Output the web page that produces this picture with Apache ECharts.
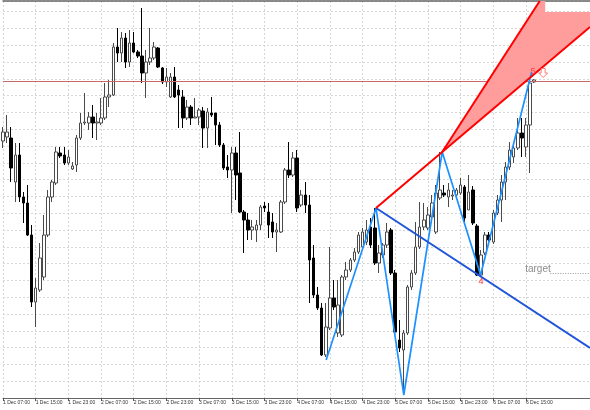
<!DOCTYPE html>
<html><head><meta charset="utf-8">
<script src="https://cdn.jsdelivr.net/npm/echarts@6/dist/echarts.min.js"></script>
<style>html,body{margin:0;padding:0;background:#fff}#c{width:590px;height:410px}</style>
</head><body><div id="c"></div>
<script>
// hourly bars, bar 0 = 1 Dec 07:00
const opens = [
1853,1857,1856,1812,1839,1797,1791,1759,1692,1704,
1717,1759,1797,1811,1841,1839,1831,1825,1829,1856,
1871,1871,1877,1871,1871,1876,1897,1899,1947,1941,
1956,1932,1951,1942,1938,1921,1932,1936,1946,1926,
1912,1897,1917,1904,1897,1876,1887,1876,1877,1883,
1866,1881,1881,1869,1849,1827,1824,1841,1821,1782,
1774,1764,1764,1769,1788,1782,1772,1762,1762,1792,
1824,1819,1836,1789,1799,1789,1736,1699,1686,1639,
1666,1696,1661,1659,1717,1724,1734,1742,1747,1752,
1767,1766,1731,1739,1749,1764,1721,1654,1644,1661,
1707,1721,1747,1767,1766,1777,1762,1796,1801,1797,
1798,1799,1801,1807,1784,1804,1768,1719,1741,1759,
1752,1781,1794,1812,1827,1837,1846,1861,1847,1869,
1912];
const closes = [
1862,1862,1826,1839,1797,1791,1759,1692,1706,1736,
1759,1797,1812,1842,1838,1831,1837,1828,1856,1871,
1872,1877,1871,1872,1876,1897,1899,1947,1941,1956,
1932,1951,1942,1938,1921,1932,1936,1947,1927,1912,
1917,1917,1897,1899,1876,1887,1876,1877,1884,1866,
1882,1879,1869,1849,1826,1824,1841,1819,1782,1774,
1764,1767,1769,1787,1786,1769,1762,1764,1792,1824,
1819,1836,1786,1799,1789,1734,1699,1686,1639,1667,
1696,1687,1689,1717,1724,1734,1742,1759,1762,1764,
1749,1731,1741,1749,1762,1721,1662,1646,1661,1707,
1721,1747,1767,1774,1779,1791,1801,1804,1799,1804,
1799,1804,1809,1776,1802,1771,1719,1739,1759,1754,
1781,1794,1812,1827,1844,1846,1861,1856,1869,1911,
1914];
const lows = [
1846,1851,1812,1792,1792,1771,1758,1687,1667,1702,
1714,1757,1792,1809,1836,1829,1829,1824,1822,1854,
1869,1864,1856,1854,1869,1874,1887,1898,1932,1932,
1926,1927,1941,1936,1911,1896,1929,1934,1926,1910,
1907,1896,1896,1866,1866,1874,1869,1876,1869,1846,
1846,1877,1849,1847,1824,1816,1781,1794,1781,1741,
1754,1754,1752,1764,1782,1756,1756,1742,1761,1790,
1816,1817,1782,1787,1781,1691,1696,1684,1638,1637,
1664,1684,1657,1657,1714,1722,1732,1740,1745,1749,
1746,1729,1721,1736,1746,1719,1659,1642,1599,1659,
1704,1719,1745,1764,1764,1774,1760,1794,1797,1787,
1794,1796,1799,1769,1784,1769,1718,1717,1739,1752,
1750,1779,1772,1794,1824,1831,1844,1837,1837,1821,
1911];
const highs = [
1867,1879,1867,1851,1851,1802,1809,1769,1716,1751,
1779,1804,1814,1847,1847,1847,1844,1832,1859,1881,
1901,1882,1889,1881,1896,1911,1914,1951,1966,1962,
1961,1964,1962,1944,1986,1944,1966,1952,1947,1927,
1926,1921,1927,1909,1904,1894,1889,1896,1886,1887,
1886,1897,1881,1872,1851,1839,1847,1847,1862,1784,
1781,1774,1774,1789,1792,1791,1781,1771,1794,1826,
1852,1842,1844,1804,1812,1799,1749,1707,1691,1691,
1747,1714,1714,1719,1732,1736,1746,1762,1766,1774,
1776,1786,1749,1751,1771,1766,1724,1674,1664,1709,
1724,1772,1792,1791,1787,1799,1809,1842,1809,1811,
1804,1806,1816,1809,1819,1808,1770,1744,1762,1762,
1784,1799,1819,1832,1852,1852,1876,1876,1876,1919,
1915];

const tickLabels = ['1 Dec 07:00','1 Dec 15:00','1 Dec 23:00','2 Dec 07:00','2 Dec 15:00','2 Dec 23:00',
  '3 Dec 07:00','3 Dec 15:00','3 Dec 23:00','4 Dec 07:00','4 Dec 15:00','4 Dec 23:00',
  '5 Dec 07:00','5 Dec 15:00','5 Dec 23:00','6 Dec 07:00','6 Dec 15:00'];
const tickBars = [0,8,16,24,32,40,48,56,64,72,80,88,96,104,112,120,128];

// pattern points (bar position, price)
const zigzagBars   = [79.1, 91.3, 98.1, 107.5, 116.9, 129.4];
const zigzagPrices = [1634, 1786, 1599, 1842, 1719, 1922];
const redLowBars   = [91.3, 107.5, 143.68];
const redLowPrices = [1786, 1842, 1967];
const redUpBars    = [107.5, 131.37];
const redUpPrices  = [1842, 1993];
const blueBars     = [91.3, 143.68];
const bluePrices   = [1786, 1646];
const wedgeBars    = [107.5, 131.37, 132.72, 132.72, 143.68, 143.68];
const wedgePrices  = [1842, 1993, 1993, 1982, 1982, 1967];
const levelPrice   = 1912.5;
const targetBars   = [133.95, 143.68];
const targetPrice  = 1720.5;

const XMIN = 0, XMAX = 143.68, YMIN = 1596, YMAX = 1993;
const candles = opens.map((o, i) => [i, o, closes[i], lows[i], highs[i]]);
const pts = (b, p) => b.map((x, k) => [x, p[k]]);

const gridLine = { show: true, lineStyle: { color: '#d6d6d6', type: [2, 2], width: 1 } };
const chart = echarts.init(document.getElementById('c'), null, { renderer: 'canvas' });
chart.setOption({
  animation: false,
  backgroundColor: '#fff',
  grid: { left: 0.33, right: 0, top: 1, bottom: 12, containLabel: false },
  xAxis: [{
    type: 'value', min: XMIN, max: XMAX, interval: 4,
    splitLine: gridLine,
    axisLine: { show: true, lineStyle: { color: '#666', width: 1 } },
    axisTick: { show: true, length: 3, lineStyle: { color: '#555' }, customValues: tickBars },
    axisLabel: {
      show: true, customValues: tickBars, align: 'left', margin: 2.5,
      fontSize: 5, color: '#333', fontFamily: 'Liberation Sans, Arial, sans-serif',
      formatter: v => { const k = tickBars.indexOf(Math.round(v)); return k >= 0 ? tickLabels[k] : ''; }
    }
  }, {
    type: 'value', position: 'top', min: XMIN, max: XMAX,
    axisLine: { show: true, lineStyle: { color: '#666', width: 1.5 } },
    axisTick: { show: false }, axisLabel: { show: false }, splitLine: { show: false }
  }],
  yAxis: {
    type: 'value', min: YMIN, max: YMAX, interval: 16.8,
    splitLine: gridLine, axisLine: { show: false }, axisTick: { show: false }, axisLabel: { show: false }
  },
  series: [
    {
      type: 'candlestick', data: candles, barWidth: 3, z: 2,
      itemStyle: { color: '#ffffff', color0: '#000000', borderColor: '#4a4a4a', borderColor0: '#000000', borderWidth: 1 }
    },
    {
      type: 'line', data: [[XMIN, levelPrice], [XMAX, levelPrice]], symbol: 'none', silent: true, z: 3,
      lineStyle: { color: '#c86a6a', width: 1 }
    },
    {
      type: 'custom', clip: true, z: 4, silent: true, data: [0],
      renderItem: (params, api) => ({
        type: 'polygon',
        shape: { points: wedgeBars.map((b, k) => api.coord([b, wedgePrices[k]])) },
        style: { fill: '#ff9c9c' }
      })
    },
    {
      type: 'line', data: pts(zigzagBars, zigzagPrices), symbol: 'none', silent: true, z: 5,
      lineStyle: { color: '#1e90ff', width: 1.7 }
    },
    {
      type: 'line', data: pts(blueBars, bluePrices), symbol: 'none', silent: true, z: 6,
      lineStyle: { color: '#1f55d8', width: 2 }
    },
    {
      type: 'line', data: pts(redLowBars, redLowPrices), symbol: 'none', silent: true, z: 7,
      lineStyle: { color: '#ff0000', width: 2 }
    },
    {
      type: 'line', data: pts(redUpBars, redUpPrices), symbol: 'none', silent: true, z: 7,
      lineStyle: { color: '#ff0000', width: 2 }
    },
    {
      type: 'line', data: [[targetBars[0], targetPrice], [targetBars[1], targetPrice]], symbol: 'none', silent: true, z: 5,
      lineStyle: { color: '#9a9a9a', width: 1, type: [1, 1.5] }
    },
    {
      type: 'custom', clip: false, z: 8, silent: true, data: [0],
      renderItem: (params, api) => {
        const p4 = api.coord([zigzagBars[4], zigzagPrices[4]]);
        const p5 = api.coord([zigzagBars[5], zigzagPrices[5]]);
        const tg = api.coord([targetBars[0], targetPrice]);
        const ax = p5[0] + 11.5, ay = p5[1] + 1;
        const arrow = [[ax - 2, ay - 4.5], [ax + 2, ay - 4.5], [ax + 2, ay], [ax + 4.5, ay], [ax, ay + 4.5], [ax - 4.5, ay], [ax - 2, ay]];
        return { type: 'group', children: [
          { type: 'text', x: p4[0] + 0.5, y: p4[1] + 7, style: { text: '4', fill: '#ff2a2a', font: '9px Liberation Sans, Arial, sans-serif', align: 'center', verticalAlign: 'middle' } },
          { type: 'text', x: p5[0] + 1.5, y: p5[1] - 0.5, style: { text: '5', fill: '#ff4040', font: '9.5px Liberation Sans, Arial, sans-serif', align: 'center', verticalAlign: 'middle' } },
          { type: 'polygon', shape: { points: arrow }, style: { fill: 'rgba(255,255,255,0)', stroke: '#ff7a7a', lineWidth: 1 } },
          { type: 'text', x: tg[0] + 0.5, y: tg[1] - 4, style: { text: 'target', fill: '#8c8c8c', font: '10px Liberation Sans, Arial, sans-serif', align: 'right', verticalAlign: 'middle' } }
        ]};
      }
    }
  ]
});
</script></body></html>
